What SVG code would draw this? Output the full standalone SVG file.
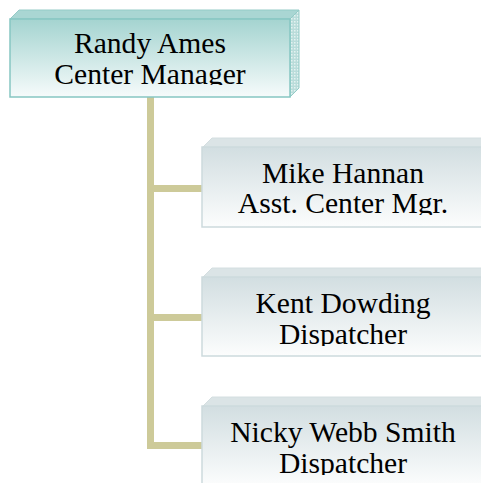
<svg xmlns="http://www.w3.org/2000/svg" width="481" height="483" viewBox="0 0 481 483">
  <defs>
    <linearGradient id="gTop" x1="0" y1="0" x2="0" y2="1">
      <stop offset="0" stop-color="#a4d4d0"/>
      <stop offset="1" stop-color="#f6fbfb"/>
    </linearGradient>
    <linearGradient id="gChild" x1="0" y1="0" x2="0" y2="1">
      <stop offset="0" stop-color="#d2dee1"/>
      <stop offset="1" stop-color="#fcfdfd"/>
    </linearGradient>
    <pattern id="dots" width="3" height="3" patternUnits="userSpaceOnUse">
      <rect width="3" height="3" fill="#b9dcda"/>
      <rect width="1.5" height="1.5" fill="#e4f2f1"/>
    </pattern>
    <clipPath id="c0"><rect x="10" y="10" width="280" height="75"/></clipPath>
    <clipPath id="c1"><rect x="202" y="138" width="280" height="77"/></clipPath>
    <clipPath id="c2"><rect x="202" y="268" width="280" height="78"/></clipPath>
    <clipPath id="c3"><rect x="202" y="397" width="280" height="78"/></clipPath>
  </defs>
  <style>
    .conn { fill: none; stroke: #cdca99; stroke-width: 7; }
    .t { font-family: "Liberation Serif", "Times New Roman", serif; font-size: 29.6px; fill: #000; text-anchor: middle; }
    .topface0 { fill: #a9d6d3; stroke: #94cbc7; stroke-width: 1; }
    .front0 { fill: url(#gTop); stroke: #86c6c2; stroke-width: 1.5; }
    .side0 { fill: url(#dots); stroke: #94cbc7; stroke-width: 1; }
    .topface1 { fill: #dbe4e6; stroke: #d4dee0; stroke-width: 1; }
    .front1 { fill: url(#gChild); stroke: #cddadd; stroke-width: 1.5; }
  </style>
  <g id="connectors">
    <path class="conn" d="M150.5 96 V445.5 H203"/>
    <path class="conn" d="M150.5 188.5 H203"/>
    <path class="conn" d="M150.5 317.5 H203"/>
  </g>
  <g id="node-randy">
    <polygon class="topface0" points="10,19 19,10 299,10 290,19"/>
    <polygon class="side0" points="290,19 299,10 299,88 290,97"/>
    <rect class="front0" x="10" y="19" width="280" height="78"/>
    <g clip-path="url(#c0)">
      <text class="t" x="150" y="53">Randy Ames</text>
      <text class="t" x="150" y="84">Center Manager</text>
    </g>
  </g>
  <g id="node-mike">
    <polygon class="topface1" points="202,148 212,138 492,138 482,148"/>
    <rect class="front1" x="202" y="147" width="282" height="80"/>
    <g clip-path="url(#c1)">
      <text class="t" x="343" y="183">Mike Hannan</text>
      <text class="t" x="343" y="213">Asst. Center Mgr.</text>
    </g>
  </g>
  <g id="node-kent">
    <polygon class="topface1" points="202,278 212,268 492,268 482,278"/>
    <rect class="front1" x="202" y="277" width="282" height="79"/>
    <g clip-path="url(#c2)">
      <text class="t" x="343" y="313">Kent Dowding</text>
      <text class="t" x="343" y="344">Dispatcher</text>
    </g>
  </g>
  <g id="node-nicky">
    <polygon class="topface1" points="202,407 212,397 492,397 482,407"/>
    <rect class="front1" x="202" y="406" width="282" height="80"/>
    <g clip-path="url(#c3)">
      <text class="t" x="343" y="442">Nicky Webb Smith</text>
      <text class="t" x="343" y="473">Dispatcher</text>
    </g>
  </g>
</svg>
